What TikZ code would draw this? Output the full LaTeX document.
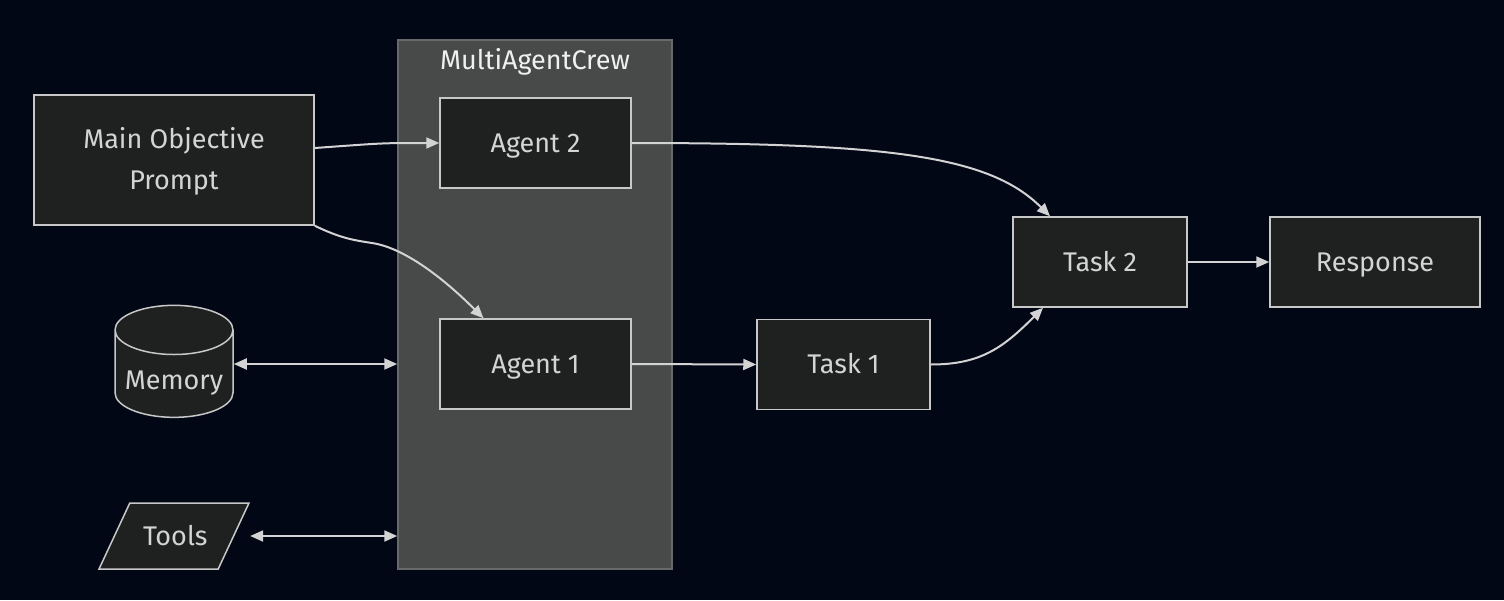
\documentclass[tikz,border=0pt]{standalone}
\usepackage{fontspec}
\setmainfont{Fira Sans}
\usetikzlibrary{positioning,arrows.meta,calc,shapes.geometric}
\definecolor{bgcol}{RGB}{2,7,22}
\definecolor{nodefill}{RGB}{31,32,32}
\definecolor{nodeline}{RGB}{200,200,200}
\definecolor{nodetext}{RGB}{212,212,212}
\definecolor{crewfill}{RGB}{72,74,74}
\definecolor{crewline}{RGB}{104,106,106}
\definecolor{edgecol}{RGB}{211,211,211}
\tikzset{
  box/.style={rectangle,draw=nodeline,fill=nodefill,line width=1.5pt,text=nodetext,
    align=center,minimum height=90pt,inner sep=0pt,text height=18.6pt,text depth=0pt},
  memdb/.style={cylinder,shape border rotate=90,aspect=0.5,draw=nodeline,fill=nodefill,
    line width=1.5pt,text=nodetext,minimum width=118pt,minimum height=112pt,inner sep=0pt,
    text height=31.6pt,text depth=0pt},
  toolio/.style={trapezium,trapezium left angle=65,trapezium right angle=115,
    draw=nodeline,fill=nodefill,line width=1.5pt,text=nodetext,align=center,
    text width=62pt,inner xsep=13.2pt,inner ysep=23.7pt,text height=18.6pt,text depth=0pt},
  crew/.style={rectangle,draw=crewline,fill=crewfill,line width=1.5pt,
    minimum width=274pt,minimum height=529pt},
  crewtitle/.style={text=white!94!black,text height=18.6pt,text depth=0pt},
  flow/.style={-{Triangle[length=13pt,width=11pt]},draw=edgecol,line width=2pt},
  sync/.style={{Triangle[length=13pt,width=11pt]}-{Triangle[length=13pt,width=11pt]},
    draw=edgecol,line width=2pt},
}
\begin{document}
\begin{tikzpicture}[x=1pt,y=-1pt,font=\fontsize{27pt}{41pt}\selectfont]
  \fill[bgcol] (0,0) rectangle (1504,600);
  % subgraph MultiAgentCrew
  \node[crew] (crew) at (535,304.5) {};
  \node[crewtitle] (crewlbl) at (535,60) {MultiAgentCrew};
  \node[box,minimum width=191pt] (agent2) at (535.5,143) {Agent 2};
  \node[box,minimum width=191pt] (agent1) at (535.5,364) {Agent 1};
  % inputs on the left
  \node[box,minimum width=280pt,minimum height=130pt,text height=59.6pt] (main) at (174,160) {Main Objective\\Prompt};
  \node[memdb] (mem) at (174,374) {Memory};
  \node[toolio] (tools) at (174,536) {Tools};
  % tasks and result
  \node[box,minimum width=173pt] (task1) at (843.5,364.5) {Task 1};
  \node[box,minimum width=174pt] (task2) at (1100,262) {Task 2};
  \node[box,minimum width=210pt] (resp) at (1375,262) {Response};
  % connectors
  \draw[flow] ([yshift=12pt]main.east) .. controls +(70,-5) and +(-60,0) .. (agent2.west);
  \draw[flow] (main.south east) .. controls +(25,12) and +(-20,-3) .. (372,243)
    .. controls +(40,6) and +(-25,-25) .. ([xshift=-52pt]agent1.north);
  \draw[sync] (mem.east |- agent1.east) -- (agent1.east -| crew.west);
  \draw[sync] (tools.top right corner |- tools.east) -- (tools.east -| crew.west);
  \draw[flow] (agent1.east) -- (task1.west);
  \draw[flow] (agent2.east) .. controls +(260,0) and +(-60,-60) .. ([xshift=-50pt]task2.north);
  \draw[flow] (task1.east) .. controls +(50,0) and +(-40,40) .. ([xshift=-57pt]task2.south);
  \draw[flow] (task2.east) -- (resp.west);
\end{tikzpicture}
\end{document}
